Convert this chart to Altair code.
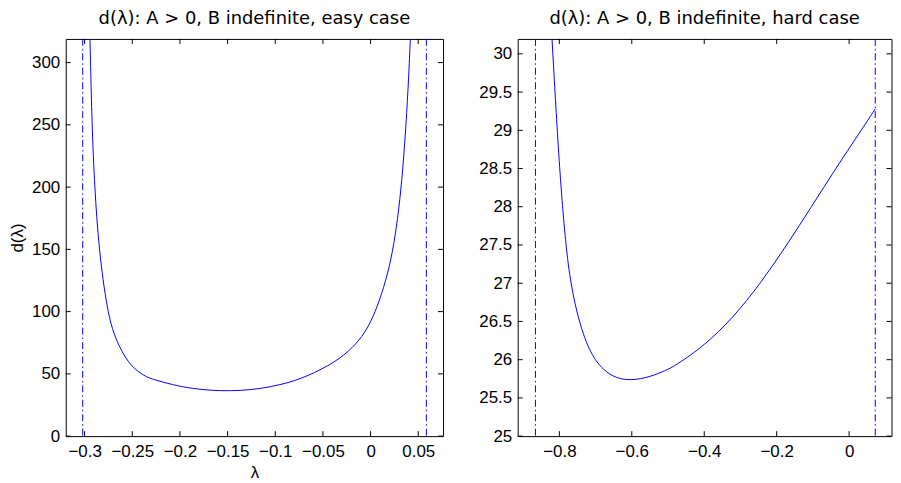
import altair as alt
import pandas as pd

# ---------------- data ----------------
# left panel: easy case
lam_easy = [-0.29439, -0.29231, -0.28950, -0.28503, -0.27630, -0.26767, -0.25385, -0.23992,
            -0.23025, -0.20530, -0.19563, -0.17830, -0.15748, -0.13670, -0.11591, -0.09510,
            -0.07433, -0.04315, -0.02236, -0.00853, 0.00021, 0.00884, 0.01851, 0.02443,
            0.02963, 0.03379, 0.03722, 0.04003, 0.04169]
d_easy = [319, 250, 200, 150, 100, 77.5, 57.8, 49.5,
          45.8, 40.9, 39.4, 37.4, 36.3, 36.6, 38.0, 41.2,
          45.5, 56.5, 68.1, 80.1, 91.7, 107.3, 131.5, 153.8,
          181.6, 213.8, 250.2, 288.9, 318.7]
poles_easy = [-0.302, 0.0585]
xticks_easy = [-0.3, -0.25, -0.2, -0.15, -0.1, -0.05, 0, 0.05]
yticks_easy = [0, 50, 100, 150, 200, 250, 300]
xdom_easy = [-0.3198, 0.0760]
ydom_easy = [0, 319]

# right panel: hard case
lam_hard = [-0.8202, -0.8001, -0.7822, -0.7687, -0.7459, -0.7144, -0.6781, -0.6420,
            -0.6013, -0.5517, -0.5064, -0.4793, -0.3998, -0.3211, -0.2441, -0.1720,
            -0.1041, -0.0372, 0.0306, 0.0722]
d_hard = [30.19, 28.494, 27.49, 26.99, 26.49, 26.075, 25.858, 25.754,
          25.728, 25.771, 25.858, 25.923, 26.183, 26.545, 27.0, 27.5,
          28.0, 28.5, 28.98, 29.28]
poles_hard = [-0.866, 0.0722]
xticks_hard = [-0.8, -0.6, -0.4, -0.2, 0]
yticks_hard = [25, 25.5, 26, 26.5, 27, 27.5, 28, 28.5, 29, 29.5, 30]
xdom_hard = [-0.915, 0.117]
ydom_hard = [25, 30.195]

H = 399
TICK = 5
BLUE = "#0000ff"
FONT = "Liberation Sans"


def panel(W, lam, d, poles, xticks, yticks, xdom, ydom, xfmt, yfmt, title, xtitle, ytitle):
    xs = alt.Scale(domain=xdom, nice=False, zero=False)
    ys = alt.Scale(domain=ydom, nice=False, zero=False)
    xax = alt.Axis(values=xticks, format=xfmt, tickSize=0, domain=False, grid=False,
                   labelPadding=7, labelFlush=False, titlePadding=6)
    yax = alt.Axis(values=yticks, format=yfmt, tickSize=0, domain=False, grid=False,
                   labelPadding=6, labelFlush=False, titlePadding=5)
    X = lambda: alt.X("lam:Q", scale=xs, axis=xax, title=xtitle)
    Y = lambda: alt.Y("d:Q", scale=ys, axis=yax, title=ytitle)

    curve = pd.DataFrame({"lam": lam, "d": d})
    xt = pd.DataFrame({"lam": xticks})
    yt = pd.DataFrame({"d": yticks})
    pl = pd.DataFrame({"lam": poles})

    line = alt.Chart(curve).mark_line(
        color=BLUE, strokeWidth=1, interpolate="basis", clip=True
    ).encode(x=X(), y=Y())
    vlines = alt.Chart(pl).mark_rule(
        color=BLUE, strokeWidth=1, strokeDash=[7, 3, 1.5, 3]
    ).encode(x=X())

    tb = alt.Chart(xt).mark_rule(color="black", strokeWidth=1).encode(
        x=X(), y=alt.value(H), y2=alt.value(H - TICK))
    tt = alt.Chart(xt).mark_rule(color="black", strokeWidth=1).encode(
        x=X(), y=alt.value(0), y2=alt.value(TICK))
    tl = alt.Chart(yt).mark_rule(color="black", strokeWidth=1).encode(
        y=Y(), x=alt.value(0), x2=alt.value(TICK))
    tr = alt.Chart(yt).mark_rule(color="black", strokeWidth=1).encode(
        y=Y(), x=alt.value(W), x2=alt.value(W - TICK))

    return alt.layer(line, vlines, tb, tt, tl, tr).properties(
        width=W, height=H, title=title)


left = panel(379, lam_easy, d_easy, poles_easy, xticks_easy, yticks_easy, xdom_easy, ydom_easy,
             ".2~f", "d", "d(λ): A > 0, B indefinite, easy case", "λ", "d(λ)")
right = panel(375.5, lam_hard, d_hard, poles_hard, xticks_hard, yticks_hard, xdom_hard, ydom_hard,
              ".1~f", ".1~f", "d(λ): A > 0, B indefinite, hard case", "", "")

chart = alt.hconcat(left, right, spacing=34).properties(
    padding={"left": 0, "top": 0, "right": 0, "bottom": 0}
).configure_view(
    stroke="black", strokeWidth=1
).configure_axis(
    labelFont=FONT, labelFontSize=17, labelColor="black",
    titleFont=FONT, titleFontSize=17, titleFontWeight="normal", titleColor="black"
).configure_title(
    font="DejaVu Sans", fontSize=18, fontWeight="normal", color="black", offset=11
)

chart.save("out.html", embed_options={"renderer": "svg", "actions": False})
